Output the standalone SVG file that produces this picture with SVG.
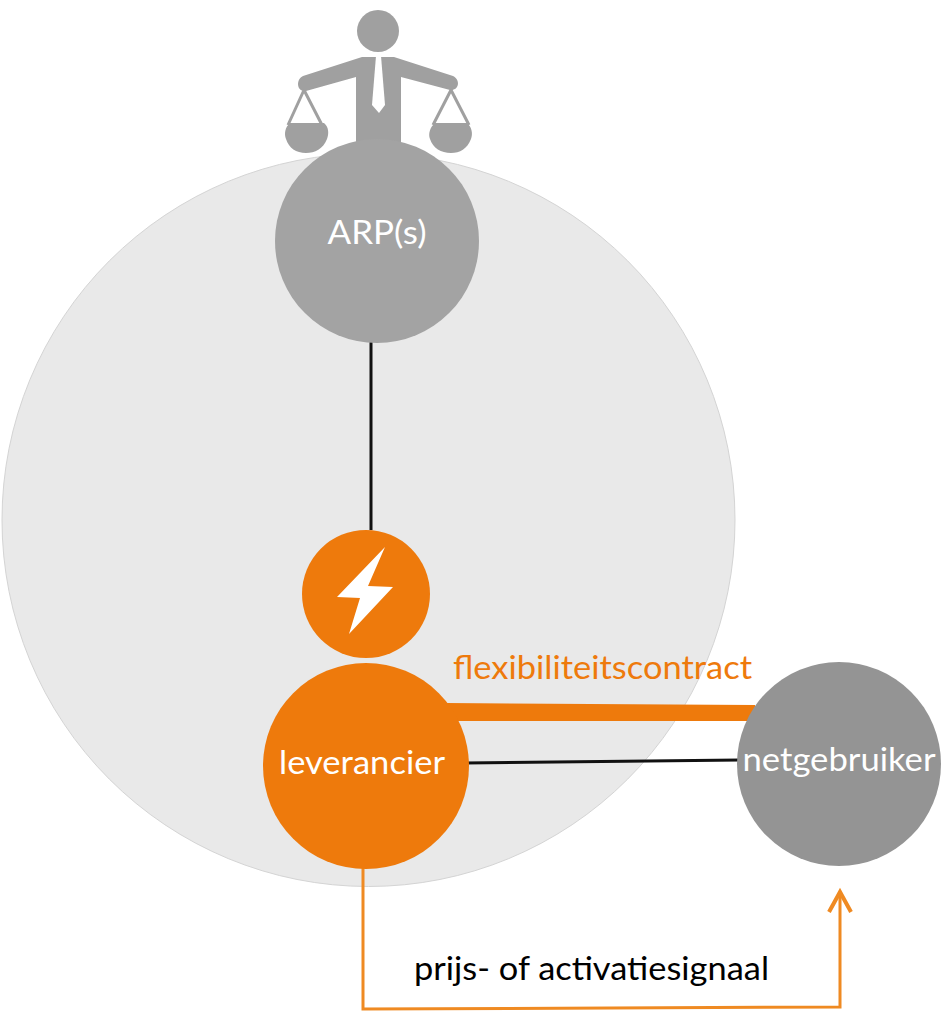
<svg xmlns="http://www.w3.org/2000/svg" width="949" height="1016" viewBox="0 0 949 1016">
<style>
.lbl{font-family:Lato,"Open Sans","Liberation Sans",sans-serif;font-size:33px}
.w{fill:#fff}
.grey{fill:#a3a3a3}
.dark{fill:#949494}
.or{fill:#ee7a0c}
.fig{fill:#a0a0a0;stroke:none}
.wire{fill:none;stroke:#a0a0a0;stroke-width:3}
</style>
<rect width="949" height="1016" fill="#fff"/>
<g id="background"><circle cx="368.500" cy="520" r="366.500" fill="#e9e9e9" stroke="#d4d4d4" stroke-width="1"/></g>
<g id="connectors">
<line x1="371" y1="340" x2="371" y2="530" stroke="#111" stroke-width="3"/>
<polygon points="445,703 755,705 755,721 445,721" fill="#ee7a0c"/>
<line x1="465" y1="763" x2="740" y2="760" stroke="#111" stroke-width="3"/>
<path d="M363,866 V1009 L840,1007 V896" fill="none" stroke="#ef8a22" stroke-width="3"/>
<path d="M829,912 L840,892 L851,912" fill="none" stroke="#ef8a22" stroke-width="4"/>
</g>
<g id="arbiter">
<circle class="fig" cx="378" cy="31" r="21"/>
<path class="fig" d="M356,145 V77 L306,91 C296,92 296,79 303,76 L362,57 H394 L453,76 C461,80 459,91 450,90 L401,77 V145 Z"/>
<path class="w" d="M376,56 H381 L385,105 L379,113 L372,105 Z"/>
<path class="wire" d="M304,90 L288,125 M304,90 L322,125 M451,90 L433,125 M451,90 L469,125"/>
<path class="fig" d="M290,123 H324 C329,127 329,134 327,139 C323,149 315,153 306,153 C296,153 289,148 286,139 C284,134 285,127 290,123 Z"/>
<path class="fig" d="M435,123 H467 C472,127 473,134 471,139 C467,149 460,153 451,153 C441,153 433,148 430,139 C428,134 430,127 435,123 Z"/>
</g>
<g id="arp"><circle class="grey" cx="377" cy="241" r="102"/><text class="lbl w" x="377" y="244" text-anchor="middle" textLength="99" lengthAdjust="spacingAndGlyphs">ARP(s)</text></g>
<g id="bolt"><circle class="or" cx="366" cy="594" r="64"/><polygon class="w" points="385,547 337,597 360,598 349,634 393,587 368,586"/></g>
<g id="leverancier"><circle class="or" cx="366" cy="766" r="103"/><text class="lbl w" x="362" y="774" text-anchor="middle" textLength="166" lengthAdjust="spacingAndGlyphs">leverancier</text></g>
<g id="netgebruiker"><circle class="dark" cx="839" cy="764" r="102"/><text class="lbl w" x="839" y="771" text-anchor="middle" textLength="193" lengthAdjust="spacingAndGlyphs">netgebruiker</text></g>
<text class="lbl" x="453" y="679" fill="#ee7a0c" textLength="299" lengthAdjust="spacingAndGlyphs">flexibiliteitscontract</text>
<text class="lbl" x="414" y="980" fill="#000" textLength="355" lengthAdjust="spacingAndGlyphs">prijs- of activatiesignaal</text>
</svg>
